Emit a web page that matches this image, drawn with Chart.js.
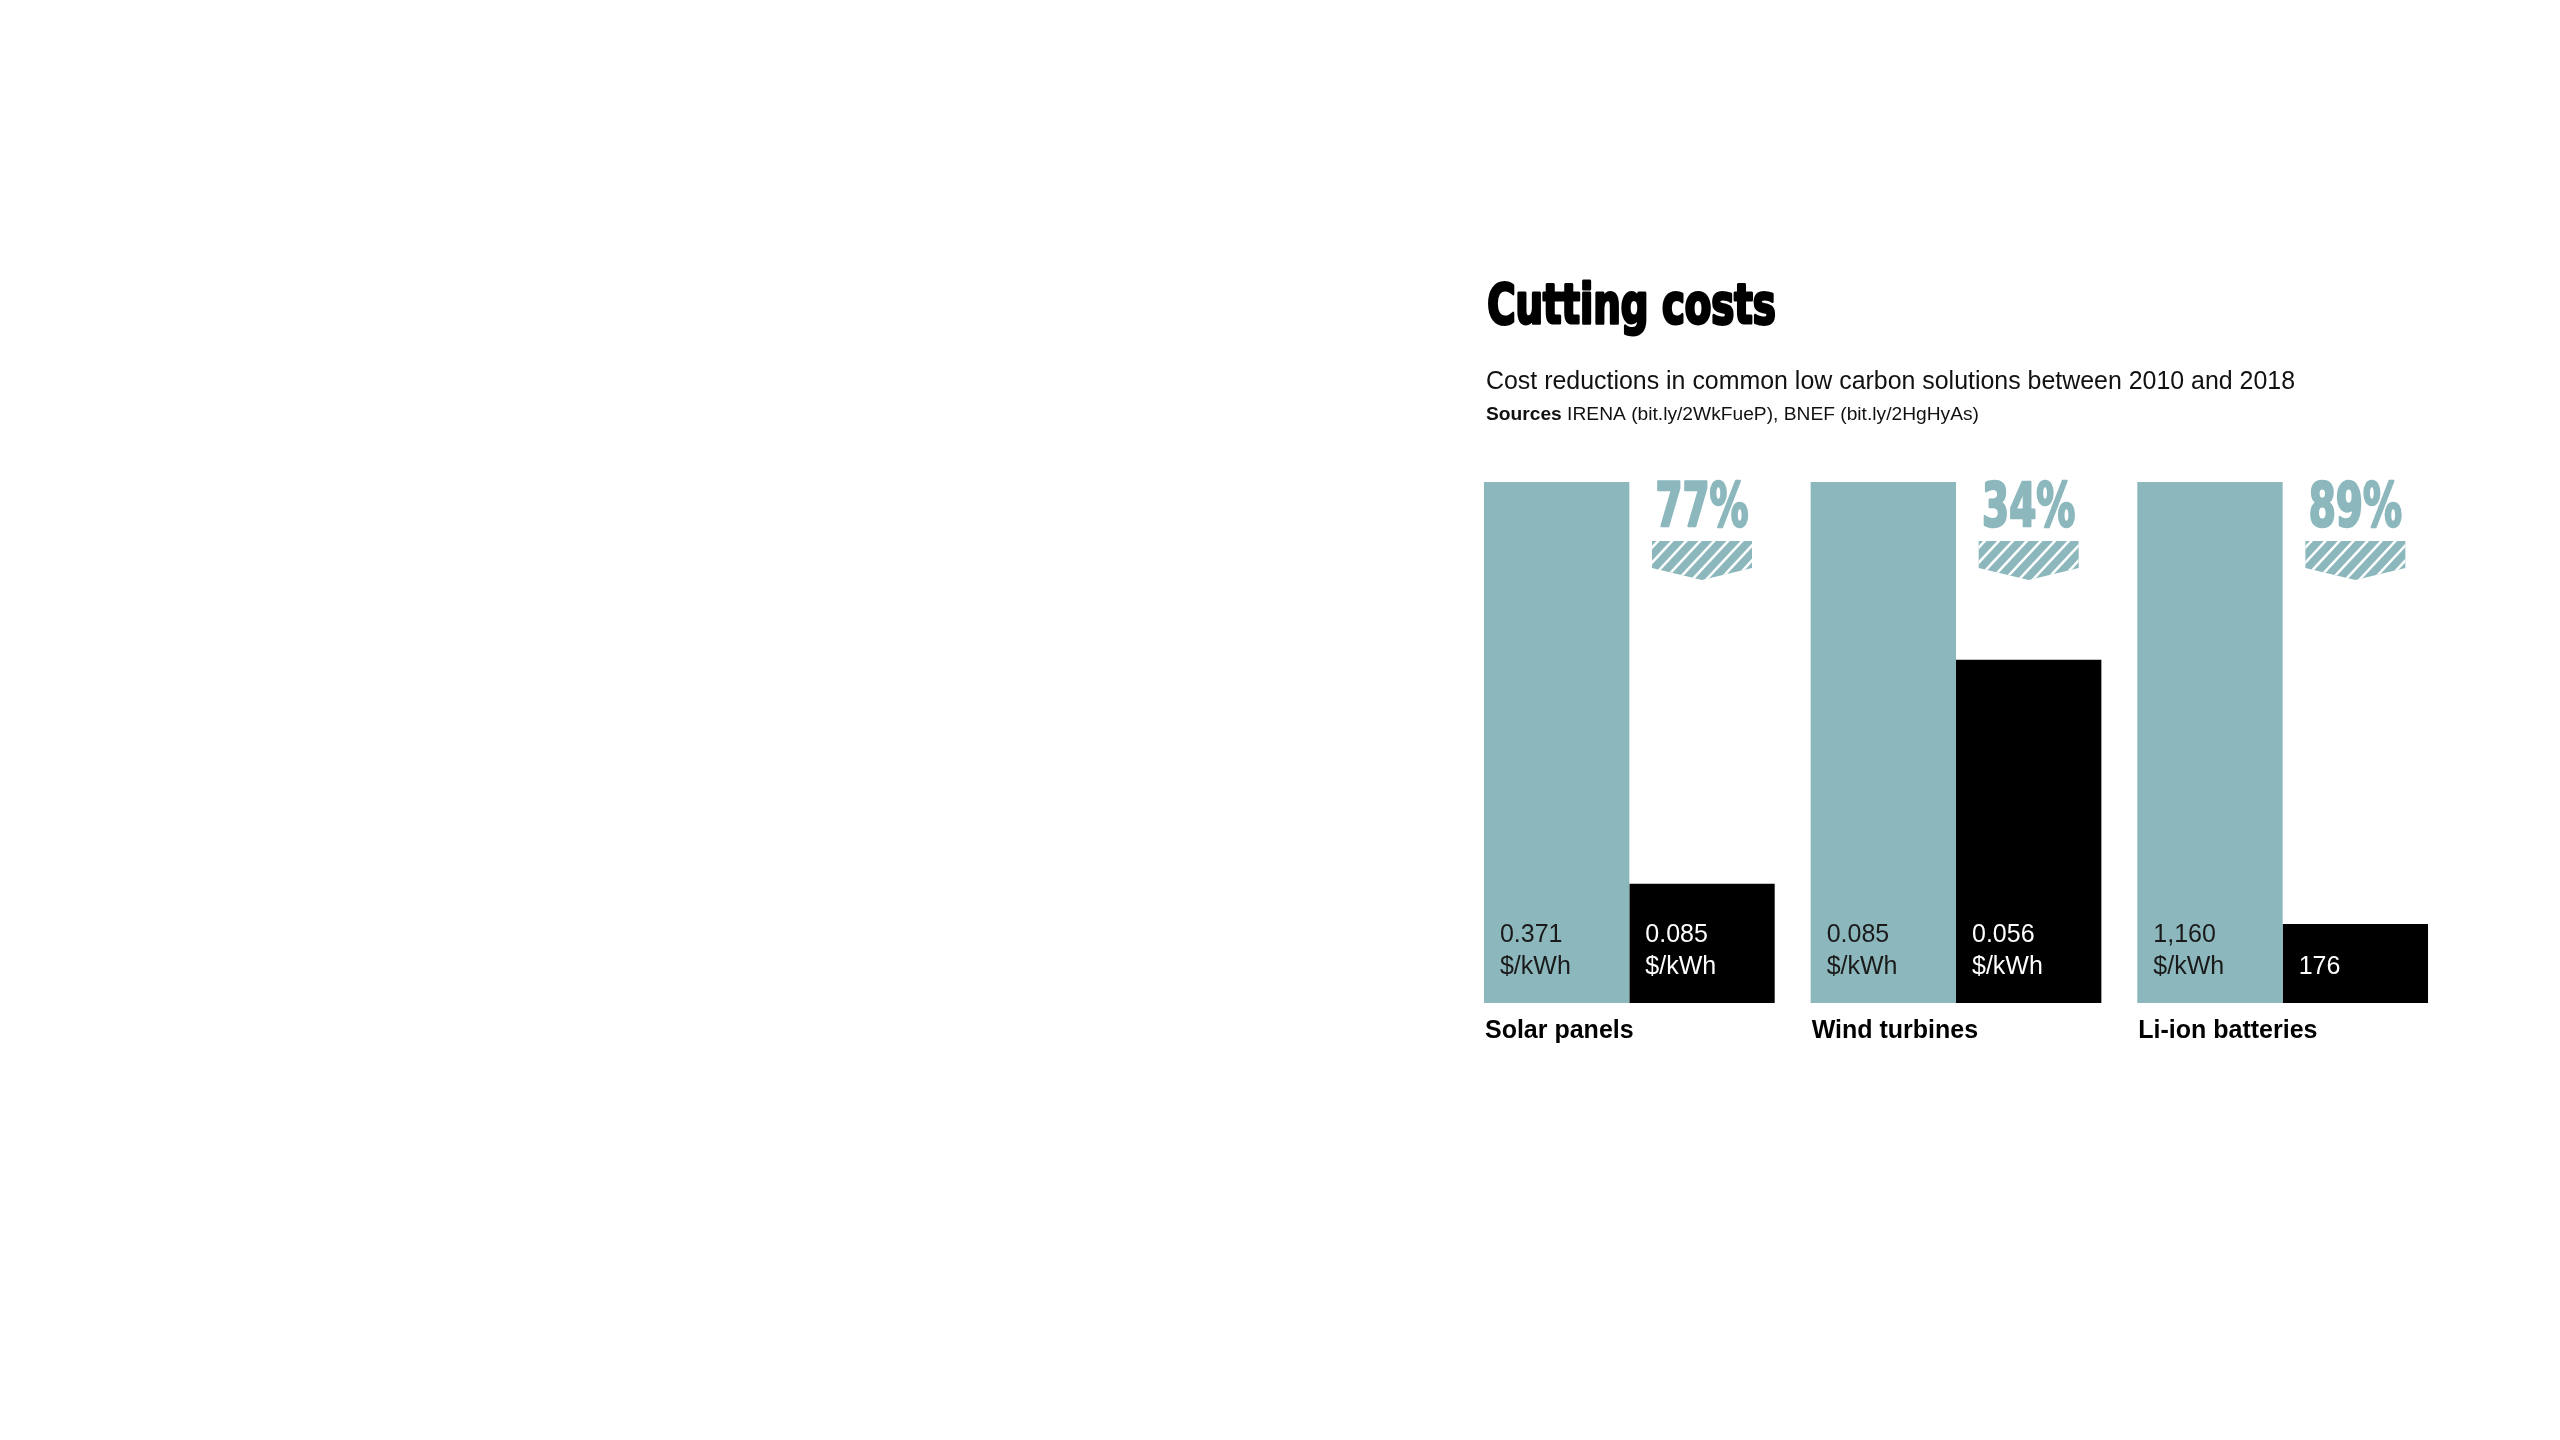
<!DOCTYPE html>
<html>
<head>
<meta charset="utf-8">
<title>Cutting costs</title>
<script src="https://cdn.jsdelivr.net/npm/chart.js@4.4.1/dist/chart.umd.min.js"></script>
<style>
  html, body { margin: 0; padding: 0; background: #fff; }
  #chart { display: block; }
</style>
</head>
<body>
<canvas id="chart" width="2560" height="1440"></canvas>
<script>
// Data
const categories = ["Solar panels", "Wind turbines", "Li-ion batteries"];
const cost2010 = [0.371, 0.085, 1160];
const cost2018 = [0.085, 0.056, 176];
const label2010 = [["0.371", "$/kWh"], ["0.085", "$/kWh"], ["1,160", "$/kWh"]];
const label2018 = [["0.085", "$/kWh"], ["0.056", "$/kWh"], ["", "176"]];
const reductions = ["77%", "34%", "89%"];

const TEAL = "#8cb8bd";
const HEAVY = "'DejaVu Sans Condensed', 'DejaVu Sans', sans-serif";
const SANS = "'Liberation Sans', Arial, sans-serif";

// each bar is shown relative to its 2010 cost (2010 = 100)
const share2010 = cost2010.map(() => 100);
const share2018 = cost2018.map((v, i) => v / cost2010[i] * 100);

// draw text, squeezed or stretched horizontally to a given width
function fitText(ctx, text, x, y, font, width, color, align, stroke) {
    ctx.save();
    ctx.font = font;
    const w = ctx.measureText(text).width + (stroke || 0);
    const sx = width ? width / w : 1;
    ctx.translate(x, y);
    ctx.scale(sx, 1);
    ctx.fillStyle = color;
    ctx.textAlign = align || "left";
    ctx.textBaseline = "alphabetic";
    ctx.fillText(text, align === "center" ? 0 : (stroke || 0) / 2, 0);
    if (stroke) {
        // thicken the glyphs a bit for the heavy display face
        ctx.strokeStyle = color;
        ctx.lineWidth = stroke;
        ctx.lineJoin = "round";
        ctx.strokeText(text, align === "center" ? 0 : stroke / 2, 0);
    }
    ctx.restore();
}

function drawBadge(ctx, cx, top) {
    const half = 50;
    const side = top + 27;
    const tip = top + 39;
    ctx.save();
    ctx.beginPath();
    ctx.moveTo(cx - half, top);
    ctx.lineTo(cx + half, top);
    ctx.lineTo(cx + half, side);
    ctx.lineTo(cx, tip);
    ctx.lineTo(cx - half, side);
    ctx.closePath();
    ctx.fillStyle = TEAL;
    ctx.fill();
    ctx.clip();
    // white diagonal hatching
    ctx.strokeStyle = "#fff";
    ctx.lineWidth = 2.5;
    for (let x = cx - half - 60; x < cx + half + 20; x += 14) {
        ctx.beginPath();
        ctx.moveTo(x, tip + 2);
        ctx.lineTo(x + 40, top - 2);
        ctx.stroke();
    }
    ctx.restore();
}

const headerPlugin = {
    id: "header",
    afterDraw(chart) {
        const ctx = chart.ctx;
        const left = 1486;
        fitText(ctx, "Cutting costs", left, 323, "bold 56px " + HEAVY, 291, "#000", "left", 3);
        fitText(ctx, "Cost reductions in common low carbon solutions between 2010 and 2018",
            left, 389, "25px " + SANS, 809, "#111");

        // sources line: bold word + regular text, fitted together
        ctx.save();
        ctx.font = "bold 18px " + SANS;
        const w1 = ctx.measureText("Sources ").width;
        ctx.font = "18px " + SANS;
        const rest = "IRENA (bit.ly/2WkFueP), BNEF (bit.ly/2HgHyAs)";
        const w2 = ctx.measureText(rest).width;
        const sx = 493 / (w1 + w2);
        ctx.translate(left, 420);
        ctx.scale(sx, 1);
        ctx.fillStyle = "#111";
        ctx.font = "bold 18px " + SANS;
        ctx.fillText("Sources", 0, 0);
        ctx.font = "18px " + SANS;
        ctx.fillText(rest, w1, 0);
        ctx.restore();
    }
};

const barLabelPlugin = {
    id: "barLabels",
    afterDatasetsDraw(chart) {
        const ctx = chart.ctx;
        const old = chart.getDatasetMeta(0).data;
        const now = chart.getDatasetMeta(1).data;
        const yTop = chart.scales.y.getPixelForValue(100);

        categories.forEach((cat, i) => {
            const a = old[i];
            const b = now[i];
            const base = a.base;

            // values inside the bars
            ctx.save();
            ctx.font = "25px " + SANS;
            ctx.textBaseline = "alphabetic";
            ctx.textAlign = "left";
            ctx.fillStyle = "#1a1a1a";
            ctx.fillText(label2010[i][0], a.x - a.width / 2 + 16, base - 61);
            ctx.fillText(label2010[i][1], a.x - a.width / 2 + 16, base - 29);
            ctx.fillStyle = "#fff";
            ctx.fillText(label2018[i][0], b.x - b.width / 2 + 16, base - 61);
            ctx.fillText(label2018[i][1], b.x - b.width / 2 + 16, base - 29);

            // category label under the pair
            ctx.fillStyle = "#000";
            ctx.font = "bold 25px " + SANS;
            ctx.fillText(cat, a.x - a.width / 2 + 1, base + 35);
            ctx.restore();

            // percentage reduction above the 2018 bar
            fitText(ctx, reductions[i], b.x, yTop + 44, "bold 60px " + HEAVY, 95, TEAL, "center", 2.5);
            drawBadge(ctx, b.x, yTop + 59);
        });
    }
};

new Chart(document.getElementById("chart"), {
    type: "bar",
    data: {
        labels: categories,
        datasets: [
            {
                label: "2010",
                data: share2010,
                backgroundColor: TEAL,
                categoryPercentage: 0.89,
                barPercentage: 1.0
            },
            {
                label: "2018",
                data: share2018,
                backgroundColor: "#000",
                categoryPercentage: 0.89,
                barPercentage: 1.0
            }
        ]
    },
    options: {
        responsive: false,
        animation: false,
        devicePixelRatio: 1,
        layout: { padding: { left: 1466, right: 114, top: 482, bottom: 437 } },
        plugins: {
            legend: { display: false },
            tooltip: { enabled: false },
            title: { display: false }
        },
        scales: {
            x: { display: false, grid: { display: false } },
            y: { display: false, min: 0, max: 100, grid: { display: false } }
        }
    },
    plugins: [headerPlugin, barLabelPlugin]
});
</script>
</body>
</html>
